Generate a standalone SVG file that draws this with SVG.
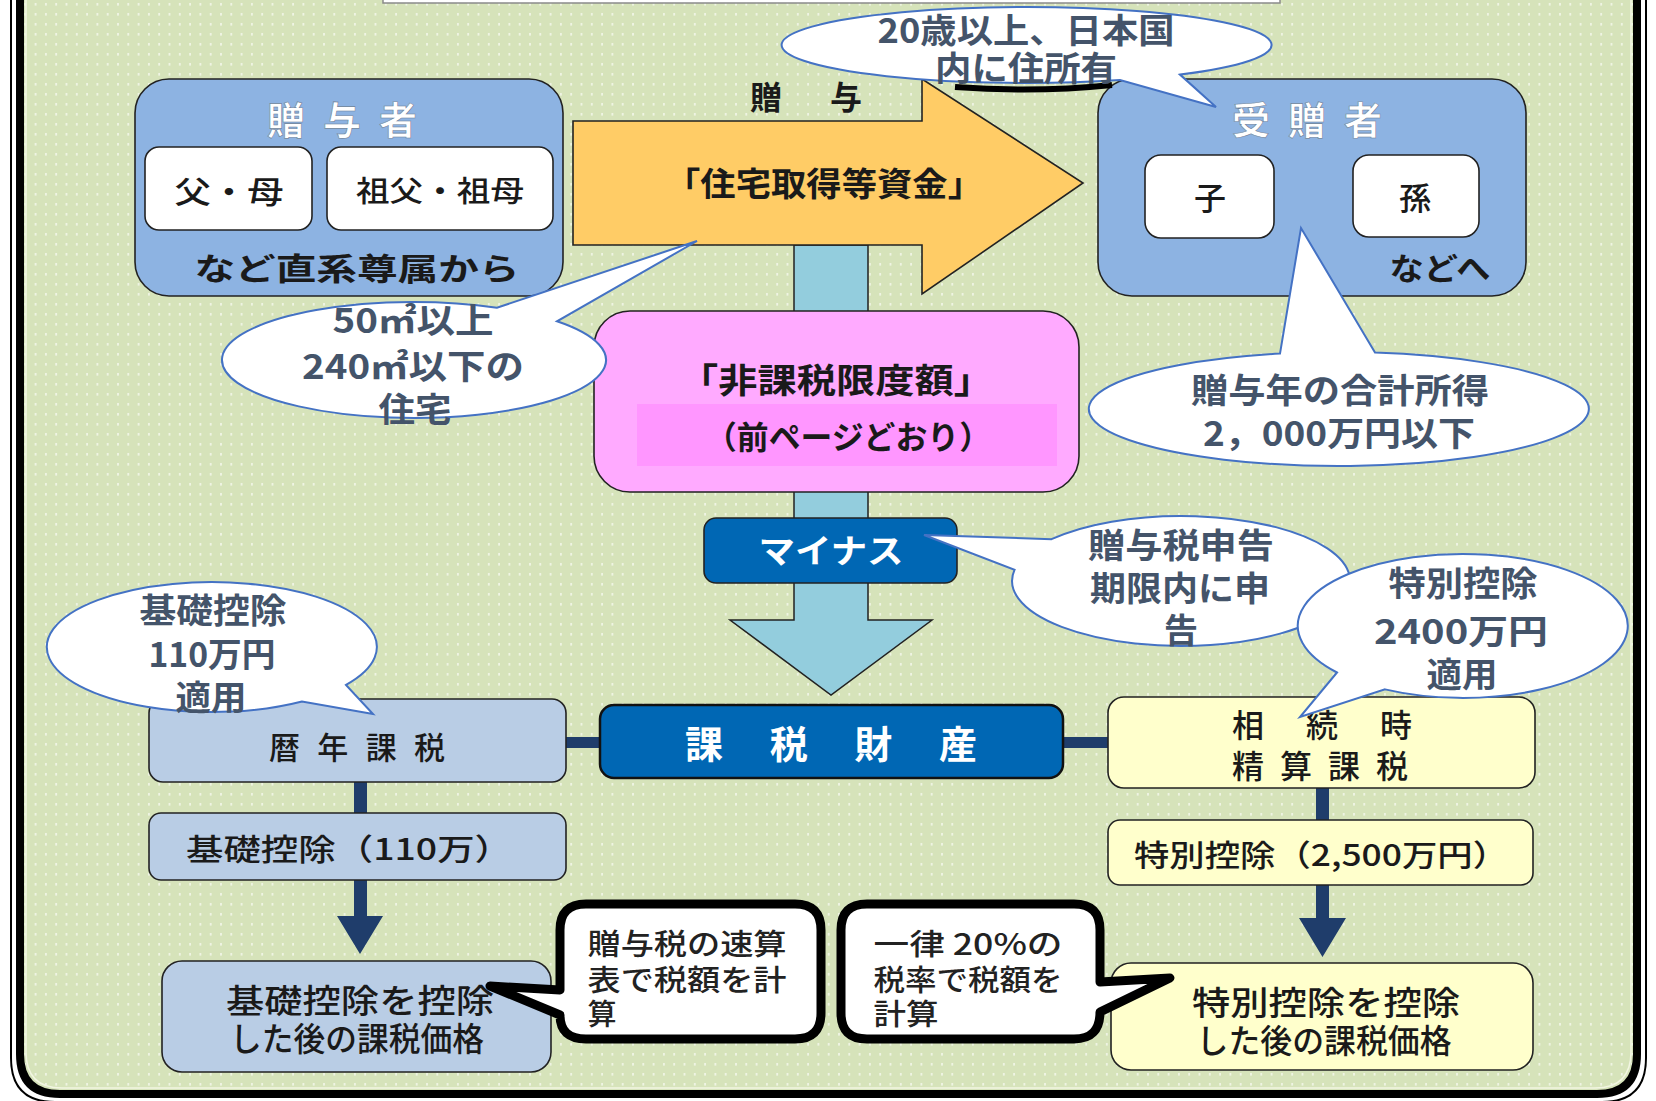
<svg xmlns="http://www.w3.org/2000/svg" width="1656" height="1101" viewBox="0 0 1656 1101">
<defs>
<pattern id="dots" width="10.3" height="10" patternUnits="userSpaceOnUse">
<rect width="10.3" height="10" fill="#d6e3ba"/>
<rect x="4" y="3" width="1.4" height="2.6" fill="#ffffff" opacity="0.8"/>
</pattern>
<style>
.t{font-family:"Noto Sans CJK JP","Noto Sans",sans-serif;text-anchor:middle;dominant-baseline:central}
.k{fill:#1a1a1a;font-weight:500}
.kb{fill:#1a1a1a;font-weight:700}
.w{fill:#ffffff;font-weight:700}
.b{fill:#44546a;font-weight:700;font-size:34px}
.c{fill:#222222;font-weight:500;font-size:29px}
.bub{fill:#ffffff;stroke:#4472c4;stroke-width:2}
.ln{fill:#1f3d6b}
.bx{stroke:#222222;stroke-width:1.6}
.call{fill:#ffffff;stroke:#000000;stroke-width:9;stroke-linejoin:round}
</style>
</defs>
<rect width="1656" height="1101" fill="#ffffff"/>
<g id="frame">
<path d="M20,-50 V1054 Q20,1094 60,1094 H1597 Q1637,1094 1637,1054 V-50" fill="url(#dots)" stroke="#000" stroke-width="8"/>
<path d="M26,-50 V1052 Q26,1088 62,1088 H1595 Q1631,1088 1631,1052 V-50" fill="none" stroke="#f2f6e2" stroke-width="1.5"/>
<path d="M11,-50 V1058 Q11,1102 55,1102 H1602 Q1646,1102 1646,1058 V-50" fill="none" stroke="#000" stroke-width="2"/>
<rect x="383" y="-20" width="897" height="23" fill="#ffffff" stroke="#8a8a8a" stroke-width="1.5"/>
</g>
<g id="connectors">
<polygon id="teal-arrow" points="794,245 868,245 868,620 932,620 831,695 730,620 794,620" fill="#93cddd" stroke="#222" stroke-width="1.5"/>
<rect class="ln" x="565" y="737" width="36" height="11"/>
<rect class="ln" x="1062" y="737" width="47" height="11"/>
<rect class="ln" x="354" y="781" width="13" height="33"/>
<polygon class="ln" points="354,879 367,879 367,916 383,916 360,954 337,916 354,916"/>
<rect class="ln" x="1316" y="787" width="13" height="34"/>
<polygon class="ln" points="1316,885 1329,885 1329,918 1346,918 1322.5,957 1299,918 1316,918"/>
</g>
<g id="gift-arrow">
<polygon points="573,121 922,121 922,79 1083,183 922,294 922,245 573,245" fill="#ffcc66" stroke="#222" stroke-width="1.6"/>
<text class="t kb" x="824" y="182" font-size="33" textLength="318" lengthAdjust="spacingAndGlyphs">「住宅取得等資金」</text>
<text class="t kb" x="806" y="95" font-size="32" textLength="112">贈　与</text>
</g>
<g id="limit">
<rect x="594" y="311" width="485" height="181" rx="36" fill="#ffaaff" class="bx"/>
<rect x="637" y="404" width="420" height="62" fill="#ff96ff"/>
<text class="t kb" x="836" y="378" font-size="34" textLength="314" lengthAdjust="spacingAndGlyphs">「非課税限度額」</text>
<text class="t kb" x="848" y="435" font-size="32" textLength="286" lengthAdjust="spacingAndGlyphs">（前ページどおり）</text>
</g>
<g id="minus">
<rect x="704" y="518" width="253" height="65" rx="12" fill="#0067b4" class="bx"/>
<text class="t w" x="831" y="549" font-size="33" textLength="145" lengthAdjust="spacingAndGlyphs">マイナス</text>
</g>
<g id="taxable">
<rect x="600" y="705" width="463" height="73" rx="14" fill="#0067b4" stroke="#111" stroke-width="2.5"/>
<text class="t w" x="831" y="741" font-size="38" textLength="292">課　税　財　産</text>
</g>
<g id="calendar">
<rect x="149" y="699" width="417" height="83" rx="14" fill="#b9cde5" class="bx"/>
<text class="t k" x="357" y="745" font-size="31" textLength="176">暦 年 課 税</text>
</g>
<g id="basic-deduction">
<rect x="149" y="813" width="417" height="67" rx="12" fill="#b9cde5" class="bx"/>
<text class="t k" x="349" y="847" font-size="30" textLength="326" lengthAdjust="spacingAndGlyphs">基礎控除（110万）</text>
</g>
<g id="after-basic">
<rect x="162" y="961" width="389" height="111" rx="20" fill="#b9cde5" class="bx"/>
<text class="t k" x="360" y="999" font-size="33" textLength="268" lengthAdjust="spacingAndGlyphs">基礎控除を控除</text>
<text class="t k" x="357" y="1037" font-size="33" textLength="254" lengthAdjust="spacingAndGlyphs">した後の課税価格</text>
</g>
<g id="settlement">
<rect x="1108" y="697" width="427" height="91" rx="16" fill="#ffffcc" class="bx"/>
<text class="t k" x="1322" y="723" font-size="32" textLength="180">相　続　時</text>
<text class="t k" x="1320" y="764" font-size="32" textLength="176">精 算 課 税</text>
</g>
<g id="special-deduction">
<rect x="1108" y="820" width="425" height="65" rx="12" fill="#ffffcc" class="bx"/>
<text class="t k" x="1321" y="853" font-size="30" textLength="374" lengthAdjust="spacingAndGlyphs">特別控除（2,500万円）</text>
</g>
<g id="after-special">
<rect x="1111" y="963" width="422" height="107" rx="20" fill="#ffffcc" class="bx"/>
<text class="t k" x="1326" y="1001" font-size="33" textLength="268" lengthAdjust="spacingAndGlyphs">特別控除を控除</text>
<text class="t k" x="1324" y="1039" font-size="33" textLength="255" lengthAdjust="spacingAndGlyphs">した後の課税価格</text>
</g>
<g id="donor">
<rect x="135" y="79" width="428" height="217" rx="34" fill="#8db3e2" class="bx"/>
<text class="t w" x="342" y="117" font-size="38" textLength="150" stroke="#6b7f99" stroke-width="0.6">贈 与 者</text>
<rect x="145" y="147" width="167" height="83" rx="14" fill="#ffffff" class="bx"/>
<text class="t k" x="229" y="189" font-size="31" textLength="109" lengthAdjust="spacingAndGlyphs">父・母</text>
<rect x="327" y="147" width="226" height="83" rx="14" fill="#ffffff" class="bx"/>
<text class="t k" x="440" y="189" font-size="29" textLength="168" lengthAdjust="spacingAndGlyphs">祖父・祖母</text>
<text class="t kb" x="357" y="266" font-size="31" textLength="325" lengthAdjust="spacingAndGlyphs">など直系尊属から</text>
</g>
<g id="recipient">
<rect x="1098" y="79" width="428" height="217" rx="34" fill="#8db3e2" class="bx"/>
<text class="t w" x="1307" y="117" font-size="38" textLength="150" stroke="#6b7f99" stroke-width="0.6">受 贈 者</text>
<rect x="1145" y="155" width="129" height="83" rx="16" fill="#ffffff" class="bx"/>
<text class="t k" x="1210" y="196" font-size="32">子</text>
<rect x="1353" y="155" width="126" height="82" rx="16" fill="#ffffff" class="bx"/>
<text class="t k" x="1415" y="196" font-size="32">孫</text>
<text class="t kb" x="1440" y="266" font-size="31" textLength="101" lengthAdjust="spacingAndGlyphs">などへ</text>
</g>
<g id="callout-left">
<path class="call" d="M586,904 H795 Q821,904 821,930 V1013 Q821,1039 795,1039 H586 Q560,1039 560,1015 L490,986 L560,990 V930 Q560,904 586,904 Z"/>
<text class="t c" x="687" y="942" textLength="199" lengthAdjust="spacingAndGlyphs">贈与税の速算</text>
<text class="t c" x="687" y="978" textLength="199" lengthAdjust="spacingAndGlyphs">表で税額を計</text>
<text class="t c" x="602" y="1012">算</text>
</g>
<g id="callout-right">
<path class="call" d="M867,904 H1074 Q1100,904 1100,930 V982 L1170,978 L1100,1012 Q1100,1039 1074,1039 H867 Q841,1039 841,1013 V930 Q841,904 867,904 Z"/>
<text class="t c" x="968" y="942" font-size="30" textLength="189" lengthAdjust="spacingAndGlyphs">一律 20%の</text>
<text class="t c" x="968" y="978" textLength="189" lengthAdjust="spacingAndGlyphs">税率で税額を</text>
<text class="t c" x="906" y="1012" textLength="65" lengthAdjust="spacingAndGlyphs">計算</text>
</g>
<g id="bubble-area">
<path class="bub" d="M497,307.7 A192 58 0 1 0 557,321.3 L697,241 Z"/>
<text class="t b" x="413" y="318" textLength="161" lengthAdjust="spacingAndGlyphs">50㎡以上</text>
<text class="t b" x="413" y="364" textLength="222" lengthAdjust="spacingAndGlyphs">240㎡以下の</text>
<text class="t b" x="415" y="407" textLength="73" lengthAdjust="spacingAndGlyphs">住宅</text>
</g>
<g id="bubble-age">
<path d="M955,87 Q1035,93 1112,85" fill="none" stroke="#000" stroke-width="6"/>
<path class="bub" d="M1180,74.6 A245 38 0 1 0 1120,80.1 L1216,107 Z"/>
<text class="t b" x="1026" y="28" textLength="297" lengthAdjust="spacingAndGlyphs">20歳以上、日本国</text>
<text class="t b" x="1026" y="66" textLength="182" lengthAdjust="spacingAndGlyphs">内に住所有</text>
</g>
<g id="bubble-income">
<path class="bub" d="M1280,353.6 A250 57 0 1 0 1375,352.6 L1301,228 Z"/>
<text class="t b" x="1340" y="388" textLength="298" lengthAdjust="spacingAndGlyphs">贈与年の合計所得</text>
<text class="t b" x="1339" y="431" textLength="272" lengthAdjust="spacingAndGlyphs">2，000万円以下</text>
</g>
<g id="bubble-basic">
<path class="bub" d="M346,684.9 A165 65 0 1 0 302,701.5 L373,714 Z"/>
<text class="t b" x="213" y="608" textLength="147" lengthAdjust="spacingAndGlyphs">基礎控除</text>
<text class="t b" x="212" y="652" textLength="127" lengthAdjust="spacingAndGlyphs">110万円</text>
<text class="t b" x="211" y="695" textLength="71" lengthAdjust="spacingAndGlyphs">適用</text>
</g>
<g id="bubble-filing">
<path class="bub" d="M1014.6,569.7 A169 65 0 1 0 1051.5,539.2 L924,535 Z"/>
<text class="t b" x="1181" y="543" textLength="186" lengthAdjust="spacingAndGlyphs">贈与税申告</text>
<text class="t b" x="1180" y="586" textLength="180" lengthAdjust="spacingAndGlyphs">期限内に申</text>
<text class="t b" x="1181" y="628">告</text>
</g>
<g id="bubble-special">
<path class="bub" d="M1385,689.4 A165 72 0 1 0 1337,672.5 L1300,717 Z"/>
<text class="t b" x="1463" y="581" textLength="149" lengthAdjust="spacingAndGlyphs">特別控除</text>
<text class="t b" x="1461" y="629" textLength="174" lengthAdjust="spacingAndGlyphs">2400万円</text>
<text class="t b" x="1462" y="672" textLength="71" lengthAdjust="spacingAndGlyphs">適用</text>
</g>
</svg>
